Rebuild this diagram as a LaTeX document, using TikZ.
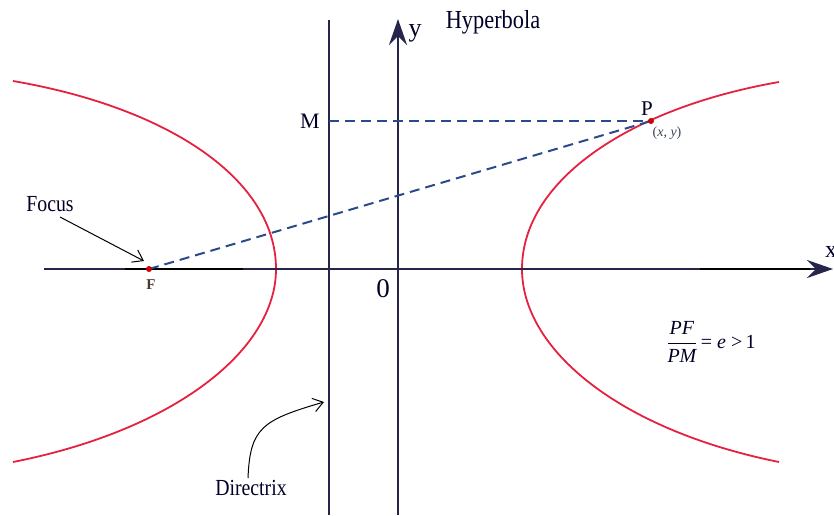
\documentclass[tikz,border=0pt]{standalone}
\usepackage{fontspec}
\setmainfont{Liberation Serif}
\newfontfamily\condserif[FakeStretch=0.86]{Liberation Serif}
\usetikzlibrary{arrows.meta}
\definecolor{axiscol}{HTML}{26264A}
\definecolor{curvecol}{HTML}{E5213F}
\definecolor{dashcol}{HTML}{2B4A8B}
\definecolor{dotcol}{HTML}{CC0000}
\definecolor{smallcol}{HTML}{3A4458}
\definecolor{flabel}{HTML}{4A3A30}
\begin{document}
\begin{tikzpicture}[x=1pt,y=-1pt,
  axis/.style={draw=axiscol, line width=2.6pt},
  axisarrow/.style={-{Stealth[length=26pt,width=18pt,inset=9pt]}},
  branch/.style={draw=curvecol, line width=1.8pt},
  guide/.style={draw=dashcol, line width=2pt, dash pattern=on 10pt off 6pt},
  pointer/.style={draw=black, line width=1pt, -{Straight Barb[angle=70:12pt]}},
  lbl/.style={inner sep=0pt, text=black!85!blue},
  dot/.style={fill=dotcol}
]
\useasboundingbox (0,0) rectangle (834,515);

% key points
\coordinate (F) at (149,269);
\coordinate (P) at (651,121);
\coordinate (M) at (329,121);
\coordinate (xstart) at (44,269);
\coordinate (xend) at (833,269);
\coordinate (ystart) at (398,515);
\coordinate (yend) at (398,19);
\coordinate (dtop) at (329,20);
\coordinate (dbot) at (329,515);

% hyperbola branches
\draw[branch] (779,82) .. controls (630,108) and (522,180) .. (522,269)
  .. controls (522,350) and (620,430) .. (779,462);
\draw[branch] (13,81) .. controls (170,108) and (276,180) .. (276,269)
  .. controls (276,350) and (175,430) .. (13,462);

% axes and directrix
\draw[axis, axisarrow] (xstart) -- (xend);
\draw[black, line width=2pt] (125,269) -- (243,269);
\draw[black, line width=2pt] (700,269) -- (810,269);
\draw[axis, axisarrow] (ystart) -- (yend);
\draw[axis] (dtop) -- (dbot);

% dashed guides
\draw[guide] (M) -- (P);
\draw[guide] (F) -- (P);

% points
\fill[dot] (F) circle (3pt);
\fill[dot] (P) circle (3pt);

% labels
\node[lbl, anchor=base, font=\condserif\fontsize{26}{28}\selectfont] (hyp) at (493,28) {Hyperbola};
\node[lbl, anchor=base, font=\fontsize{26}{28}\selectfont] (ylbl) at (415,36) {y};
\node[lbl, anchor=base west, font=\fontsize{24}{26}\selectfont] (xlbl) at (825,257) {x};
\node[lbl, anchor=base, font=\fontsize{22}{24}\selectfont] (Mlbl) at (310,128) {M};
\node[lbl, anchor=base, font=\fontsize{21}{24}\selectfont] (Plbl) at (647,115) {P};
\node[inner sep=0pt, text=smallcol, font=\fontsize{14}{16}\selectfont] (xy) at (667,133) {(\textit{x}, \textit{y})};
\node[inner sep=0pt, anchor=base, text=flabel, font=\bfseries\fontsize{15}{17}\selectfont] (Flbl) at (151,289) {F};
\node[lbl, anchor=base, font=\fontsize{27}{29}\selectfont] (zero) at (383,297) {0};
\node[lbl, anchor=base, font=\condserif\fontsize{23}{25}\selectfont] (focuslbl) at (50,211) {Focus};
\node[lbl, anchor=base, font=\condserif\fontsize{23}{25}\selectfont] (dirlbl) at (251,495) {Directrix};
\node[lbl, font=\fontsize{20}{22}\selectfont] (ratio) at (711,342)
  {$\displaystyle\frac{\mbox{\itshape PF}}{\mbox{\itshape PM}}$\mbox{\,= \itshape e\upshape\ >\,1}};

% pointer arrows
\coordinate (focustail) at (60,217);
\coordinate (focustip) at (144,261);
\draw[pointer] (focustail) -- (focustip);
\coordinate (dirtail) at (248,478);
\coordinate (dirtip) at (324,402);
\draw[pointer] (dirtail) .. controls (250,428) and (262,420) .. (dirtip);
\end{tikzpicture}
\end{document}
